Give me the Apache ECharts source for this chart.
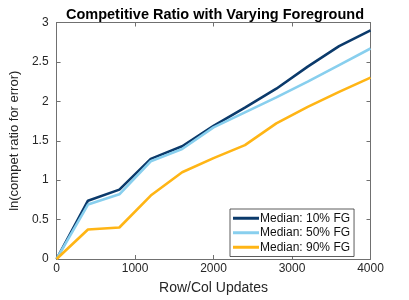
<!DOCTYPE html>
<html>
<head>
<meta charset="utf-8">
<script src="https://cdn.jsdelivr.net/npm/echarts@6/dist/echarts.min.js"></script>
<style>html,body{margin:0;padding:0;background:#fff;}#c{width:409px;height:300px;}</style>
</head>
<body>
<div id="c"></div>
<script>
var titleText = 'Competitive Ratio with Varying Foreground';
var xLabel = 'Row/Col Updates';
var yLabel = 'ln(compet ratio for error)';
var updates = [0, 400, 800, 1200, 1600, 2000, 2400, 2800, 3200, 3600, 4000];
var fg10 = [0, 0.74, 0.88, 1.27, 1.43, 1.69, 1.92, 2.16, 2.44, 2.70, 2.90];
var fg50 = [0, 0.69, 0.82, 1.24, 1.395, 1.67, 1.86, 2.05, 2.25, 2.46, 2.67];
var fg90 = [0, 0.375, 0.40, 0.805, 1.10, 1.28, 1.445, 1.72, 1.93, 2.12, 2.30];
var seriesNames = ['Median: 10% FG', 'Median: 50% FG', 'Median: 90% FG'];
var seriesColors = ['#0b3a6b', '#88cfee', '#ffb515'];
var seriesData = [fg10, fg50, fg90];

var font = 'Liberation Sans, Arial, Helvetica, sans-serif';
var axisCol = '#707070';
function pairs(arr){ return arr.map(function(v,i){ return [updates[i], v]; }); }
var chart = echarts.init(document.getElementById('c'), null, {renderer:'canvas'});
var baseX = {type:'value', min:0, max:4000, interval:1000,
  axisLine:{show:true, onZero:false, lineStyle:{color:axisCol, width:1}},
  axisTick:{show:true, inside:true, length:4, lineStyle:{color:axisCol}},
  splitLine:{show:false}};
var baseY = {type:'value', min:0, max:3, interval:0.5,
  axisLine:{show:true, onZero:false, lineStyle:{color:axisCol, width:1}},
  axisTick:{show:true, inside:true, length:4, lineStyle:{color:axisCol}},
  splitLine:{show:false}};
chart.setOption({
  animation:false,
  backgroundColor:'#fff',
  title:{text:titleText, left:210, textAlign:'center', top:2,
    textStyle:{fontFamily:font, fontSize:14.5, fontWeight:'bold', color:'#000'}},
  grid:{left:53, right:38.5, top:22.5, bottom:38, containLabel:false},
  legend:{orient:'vertical', left:230, top:209, padding:[3,4,3,3],
    borderColor:'#333', borderWidth:0.8, backgroundColor:'#fff',
    itemWidth:26, itemHeight:3, itemGap:2, icon:'rect',
    textStyle:{fontFamily:font, fontSize:12, color:'#111', lineHeight:12.5, padding:[0,0,0,-4]},
    data:seriesNames},
  xAxis:[
    Object.assign({}, baseX, {position:'bottom', name:xLabel, nameLocation:'middle', nameGap:22,
      nameTextStyle:{fontFamily:font, fontSize:14, color:'#262626'},
      axisLabel:{fontFamily:font, fontSize:12, color:'#262626', margin:4,
        formatter:function(v){ return String(v); }}}),
    Object.assign({}, baseX, {position:'top', axisLabel:{show:false}})
  ],
  yAxis:[
    Object.assign({}, baseY, {position:'left', name:yLabel, nameLocation:'middle', nameGap:31,
      nameTextStyle:{fontFamily:font, fontSize:13, color:'#262626'},
      axisLabel:{fontFamily:font, fontSize:12, color:'#262626', margin:8}}),
    Object.assign({}, baseY, {position:'right', axisLabel:{show:false}})
  ],
  series: seriesNames.map(function(n,i){
    return {name:n, type:'line', xAxisIndex:0, yAxisIndex:0, data:pairs(seriesData[i]),
      showSymbol:false, symbol:'none', lineStyle:{color:seriesColors[i], width:2.6},
      itemStyle:{color:seriesColors[i]}, z:2+i};
  })
});
</script>
</body>
</html>
